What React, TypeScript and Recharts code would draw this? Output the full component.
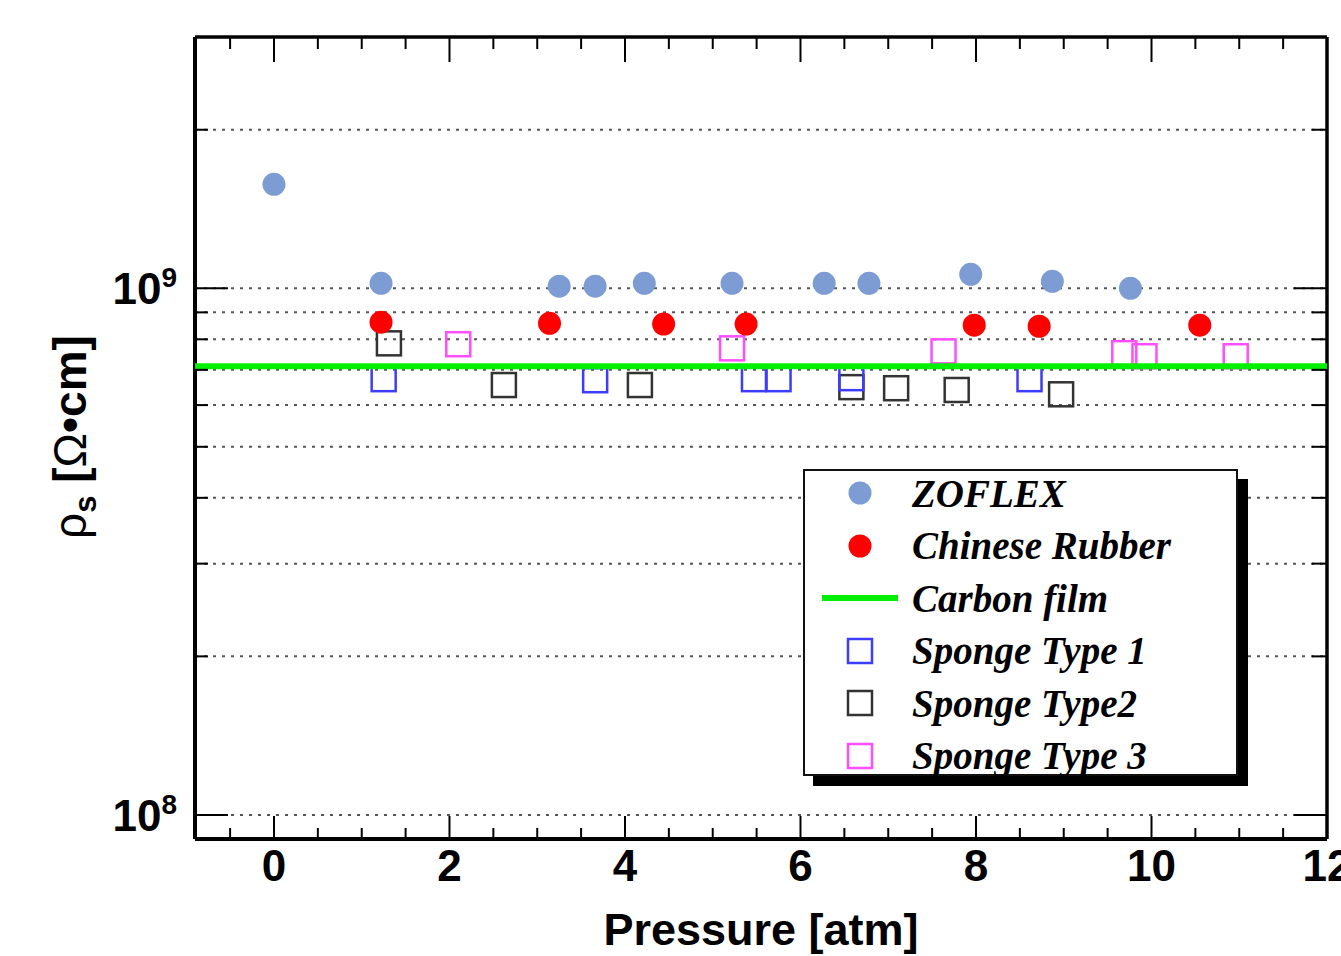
import React from "react";
import { ScatterChart, Scatter, XAxis, YAxis, CartesianGrid, Legend } from "recharts";

// values (pressure in atm, resistivity in Ω·cm)
const ZOFLEX_X = [0, 1.22, 3.25, 3.66, 4.22, 5.22, 6.27, 6.78, 7.94, 8.87, 9.76];
const ZOFLEX_Y = [1.575e9, 1.022e9, 1.009e9, 1.009e9, 1.022e9, 1.022e9, 1.022e9, 1.022e9, 1.063e9, 1.031e9, 1.0e9];

const RUBBER_X = [1.22, 3.14, 4.44, 5.38, 7.98, 8.72, 10.55];
const RUBBER_Y = [8.62e8, 8.58e8, 8.55e8, 8.55e8, 8.51e8, 8.47e8, 8.51e8];

const CARBON_X = [-0.9, 12];
const CARBON_Y = [7.11e8, 7.11e8];

const SPONGE1_X = [1.25, 3.66, 5.47, 5.75, 6.58, 8.61];
const SPONGE1_Y = [6.72e8, 6.69e8, 6.72e8, 6.72e8, 6.75e8, 6.72e8];

const SPONGE2_X = [1.31, 2.62, 4.17, 6.58, 7.09, 7.78, 8.97];
const SPONGE2_Y = [7.86e8, 6.55e8, 6.55e8, 6.49e8, 6.46e8, 6.41e8, 6.29e8];

const SPONGE3_X = [2.1, 5.22, 7.63, 9.69, 9.92, 10.96];
const SPONGE3_Y = [7.83e8, 7.69e8, 7.59e8, 7.53e8, 7.43e8, 7.43e8];

const X_TICKS = [-0.5, 0, 0.5, 1, 1.5, 2, 2.5, 3, 3.5, 4, 4.5, 5, 5.5, 6, 6.5, 7, 7.5, 8, 8.5, 9, 9.5, 10, 10.5, 11, 11.5, 12];
const X_LABELS = [0, 2, 4, 6, 8, 10, 12];
const Y_TICKS = [1e8, 2e8, 3e8, 4e8, 5e8, 6e8, 7e8, 8e8, 9e8, 1e9, 2e9];
const Y_LABELS = [1e8, 1e9];
const Y_EXPONENTS = ["8", "9"];

const SERIES_NAMES = ["ZOFLEX", "Chinese Rubber", "Carbon film", "Sponge Type 1", "Sponge Type2", "Sponge Type 3"];

const zip = (xs: number[], ys: number[]) => xs.map((x, i) => ({ x, y: ys[i] }));

const SANS = "'Liberation Sans', Arial, Helvetica, sans-serif";
const SERIF = "'Liberation Serif', 'Times New Roman', serif";

const COLORS: Record<string, string> = {
  ZOFLEX: "#7d9cd3",
  "Chinese Rubber": "#ff0000",
  "Carbon film": "#00f000",
  "Sponge Type 1": "#3c3cff",
  "Sponge Type2": "#333333",
  "Sponge Type 3": "#ff4dff",
};
const KIND: Record<string, string> = {
  ZOFLEX: "circle",
  "Chinese Rubber": "circle",
  "Carbon film": "line",
  "Sponge Type 1": "square",
  "Sponge Type2": "square",
  "Sponge Type 3": "square",
};

const X_MARGIN = 11;
const Y_MARGIN = 18;

const circle = (color: string) => (p: any) => <circle cx={p.cx} cy={p.cy} r={11.5} fill={color} />;
const square = (color: string) => (p: any) => (
  <rect x={p.cx - 12} y={p.cy - 12} width={24} height={24} fill="none" stroke={color} strokeWidth={2.5} />
);

function BottomTick(props: any) {
  const { x, y, payload } = props;
  const major = X_LABELS.includes(payload.value);
  const axisY = y - X_MARGIN;
  return (
    <g>
      <line x1={x} x2={x} y1={axisY} y2={axisY - (major ? 23 : 11)} stroke="#000" strokeWidth={2} />
      {major && (
        <text x={x} y={y} dy="0.71em" textAnchor="middle" fontFamily={SANS} fontWeight="bold" fontSize={44} fill="#000">
          {payload.value}
        </text>
      )}
    </g>
  );
}

function TopTick(props: any) {
  const { x, y, payload } = props;
  const major = X_LABELS.includes(payload.value);
  return <line x1={x} x2={x} y1={y} y2={y + (major ? 25 : 12)} stroke="#000" strokeWidth={2} />;
}

function LeftTick(props: any) {
  const { x, y, payload } = props;
  const idx = Y_LABELS.indexOf(payload.value);
  const axisX = x + Y_MARGIN;
  return (
    <g>
      <line x1={axisX} x2={axisX + (idx >= 0 ? 33 : 13)} y1={y} y2={y} stroke="#000" strokeWidth={2} />
      {idx >= 0 && (
        <text x={x} y={y} dy="0.36em" textAnchor="end" fontFamily={SANS} fontWeight="bold" fontSize={44} fill="#000">
          <tspan>10</tspan>
          <tspan fontSize={28} dy={-17}>{Y_EXPONENTS[idx]}</tspan>
        </text>
      )}
    </g>
  );
}

function RightTick(props: any) {
  const { x, y, payload } = props;
  const major = Y_LABELS.includes(payload.value);
  return <line x1={x - (major ? 33 : 15)} x2={x} y1={y} y2={y} stroke="#000" strokeWidth={2} />;
}

function XTitle(props: any) {
  const vb = props.viewBox;
  return (
    <text x={vb.x + vb.width / 2} y={vb.y + 106} textAnchor="middle" fontFamily={SANS} fontWeight="bold" fontSize={45} fill="#000">
      Pressure [atm]
    </text>
  );
}

function YTitle(props: any) {
  const vb = props.viewBox;
  const cx = vb.x + 86;
  const cy = vb.y + vb.height / 2 - 1;
  return (
    <text transform={`translate(${cx},${cy}) rotate(-90)`} textAnchor="middle" fontFamily={SANS} fontWeight="bold" fontSize={46} fill="#000">
      <tspan fontWeight="normal">ρ</tspan>
      <tspan fontSize={31} dy={10}>s</tspan>
      <tspan dy={-10}> [</tspan>
      <tspan fontWeight="normal">Ω</tspan>
      <tspan>•cm]</tspan>
    </text>
  );
}

function LegendIcon({ name }: { name: string }) {
  const c = COLORS[name];
  const k = KIND[name];
  return (
    <svg width={80} height={30} style={{ display: "block" }}>
      {k === "circle" && <circle cx={40} cy={15} r={11.5} fill={c} />}
      {k === "square" && <rect x={28} y={3} width={24} height={24} fill="none" stroke={c} strokeWidth={2.5} />}
      {k === "line" && <line x1={2} x2={78} y1={15} y2={15} stroke={c} strokeWidth={6} />}
    </svg>
  );
}

function LegendBox(props: any) {
  const present = (props.payload ?? []).map((p: any) => p.value);
  const names = SERIES_NAMES.filter((n) => present.includes(n));
  return (
    <div
      style={{
        width: 431,
        height: 303,
        background: "#fff",
        border: "2px solid #111",
        boxShadow: "10px 10px 0 0 #000",
        boxSizing: "content-box",
      }}
    >
      {names.map((n) => (
        <div key={n} style={{ display: "flex", alignItems: "center", height: 52.5, marginTop: n === names[0] ? -4 : 0 }}>
          <div style={{ marginLeft: 15, width: 80 }}>
            <LegendIcon name={n} />
          </div>
          <span
            style={{
              marginLeft: 12,
              fontFamily: SERIF,
              fontStyle: "italic",
              fontWeight: "bold",
              fontSize: 39,
              color: "#000",
              whiteSpace: "nowrap",
            }}
          >
            {n}
          </span>
        </div>
      ))}
    </div>
  );
}

export default function App() {
  return (
    <div style={{ position: "absolute", left: 0, top: 0, width: 1341, height: 956, background: "#fff" }}>
      <ScatterChart width={1341} height={956} margin={{ top: 0, right: 0, bottom: 0, left: 0 }}>
        <CartesianGrid vertical={false} stroke="#555" strokeWidth={2} strokeDasharray="3 6" />
        <XAxis
          type="number"
          dataKey="x"
          domain={[-0.9, 12]}
          allowDataOverflow
          ticks={X_TICKS}
          interval={0}
          height={117}
          tickSize={0}
          tickMargin={X_MARGIN}
          tick={(p: any) => <BottomTick {...p} />}
          axisLine={{ stroke: "#000", strokeWidth: 4 }}
          label={(p: any) => <XTitle {...p} />}
        />
        <XAxis
          xAxisId="top"
          orientation="top"
          type="number"
          dataKey="x"
          domain={[-0.9, 12]}
          allowDataOverflow
          ticks={X_TICKS}
          interval={0}
          height={37}
          tickSize={0}
          tickMargin={0}
          tick={(p: any) => <TopTick {...p} />}
          axisLine={{ stroke: "#000", strokeWidth: 3.5 }}
        />
        <YAxis
          type="number"
          dataKey="y"
          scale="log"
          domain={[9e7, 3e9]}
          allowDataOverflow
          ticks={Y_TICKS}
          interval={0}
          width={195}
          tickSize={0}
          tickMargin={Y_MARGIN}
          tick={(p: any) => <LeftTick {...p} />}
          axisLine={{ stroke: "#000", strokeWidth: 4 }}
          label={(p: any) => <YTitle {...p} />}
        />
        <YAxis
          yAxisId="right"
          orientation="right"
          type="number"
          dataKey="y"
          scale="log"
          domain={[9e7, 3e9]}
          allowDataOverflow
          ticks={Y_TICKS}
          interval={0}
          width={14}
          tickSize={0}
          tickMargin={0}
          tick={(p: any) => <RightTick {...p} />}
          axisLine={{ stroke: "#000", strokeWidth: 3.5 }}
        />
        <Scatter name="Sponge Type2" data={zip(SPONGE2_X, SPONGE2_Y)} shape={square(COLORS["Sponge Type2"])} isAnimationActive={false} />
        <Scatter name="Sponge Type 1" data={zip(SPONGE1_X, SPONGE1_Y)} shape={square(COLORS["Sponge Type 1"])} isAnimationActive={false} />
        <Scatter name="Sponge Type 3" data={zip(SPONGE3_X, SPONGE3_Y)} shape={square(COLORS["Sponge Type 3"])} isAnimationActive={false} />
        <Scatter
          name="Carbon film"
          data={zip(CARBON_X, CARBON_Y)}
          line={{ stroke: COLORS["Carbon film"], strokeWidth: 6 }}
          shape={() => <g />}
          fill={COLORS["Carbon film"]}
          isAnimationActive={false}
        />
        <Scatter name="Chinese Rubber" data={zip(RUBBER_X, RUBBER_Y)} shape={circle(COLORS["Chinese Rubber"])} fill={COLORS["Chinese Rubber"]} isAnimationActive={false} />
        <Scatter name="ZOFLEX" data={zip(ZOFLEX_X, ZOFLEX_Y)} shape={circle(COLORS.ZOFLEX)} fill={COLORS.ZOFLEX} isAnimationActive={false} />
        <Legend
          layout="vertical"
          align="center"
          verticalAlign="middle"
          content={(p: any) => <LegendBox {...p} />}
          wrapperStyle={{ position: "absolute", left: 803, top: 469, width: 445, height: 317, margin: 0 }}
        />
      </ScatterChart>
    </div>
  );
}
